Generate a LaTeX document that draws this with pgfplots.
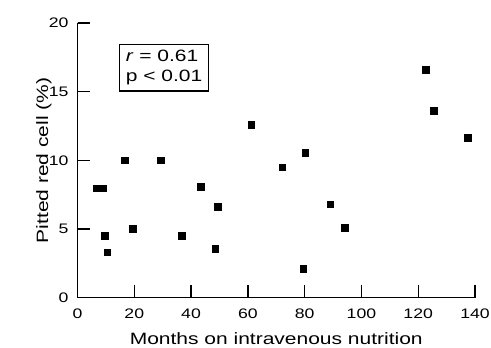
\documentclass[border=0pt]{standalone}
\usepackage{pgfplots}
\pgfplotsset{compat=1.18}
\usepackage{fontspec}
\setmainfont{Liberation Sans}[FakeStretch=1.28]
\begin{document}
\begin{tikzpicture}
\begin{axis}[
  at={(0,0)}, anchor=south west,
  scale only axis,
  width=198.75pt, height=137.35pt,
  xmin=0, xmax=140, ymin=0, ymax=20,
  axis x line*=bottom, axis y line*=left,
  axis line style={-, line width=0.65pt},
  xtick pos=bottom, ytick pos=left,
  xtick align=inside, ytick align=inside,
  major tick length=6.4pt,
  every tick/.style={black, line width=0.65pt},
  xtick={0,20,...,140}, ytick={0,5,...,20},
  /pgf/number format/assume math mode=true,
  ticklabel style={font=\fontsize{6.9}{8}\selectfont},
  xticklabel style={yshift=-1.8pt},
  yticklabel style={xshift=-1pt},
  xlabel={Months on intravenous nutrition},
  ylabel={Pitted red cell (\%)},
  xlabel style={at={(axis description cs:0.5,0)}, anchor=base, yshift=-23.15pt, font=\fontsize{8.2}{9.5}\selectfont},
  ylabel style={at={(axis description cs:-0.0843,0.5)}, anchor=center, font=\fontsize{8.2}{9.5}\selectfont},
  clip=false,
]
\addplot[only marks, mark=square*, mark size=1.65pt, black] coordinates {
(6.8,7.95) (8.9,7.95) (9.7,4.5) (10.6,3.3) (16.7,10.0) (19.6,5.0)
(29.4,10.0) (36.7,4.5) (43.5,8.07) (48.5,3.55) (49.5,6.6) (61.3,12.56)
(72.1,9.5) (79.5,2.09) (80.2,10.55) (89.0,6.78) (94.2,5.08)
(122.8,16.6) (125.6,13.6) (137.4,11.64)
};
\pgfplotsinvokeforeach{20,40,60,80,100,120,140}{
  \draw[black, line width=0.65pt] (axis cs:#1,0) -- ++(0,6.4pt);
}
\pgfplotsinvokeforeach{0,5,10,15,20}{
  \draw[black, line width=0.65pt] (axis cs:0,#1) -- ++(6.4pt,0);
}
\node[draw, line width=0.6pt, anchor=north west, align=left, inner xsep=3pt, inner ysep=3pt, font=\fontsize{8.2}{10}\selectfont]
  at (axis cs:14.7,18.5) {\textit{r} = 0.61\\p < 0.01};
\end{axis}
\pgfresetboundingbox
\path[use as bounding box] (-38.75pt,-24.65pt) rectangle (206.75pt,148.85pt);
\end{tikzpicture}
\end{document}
